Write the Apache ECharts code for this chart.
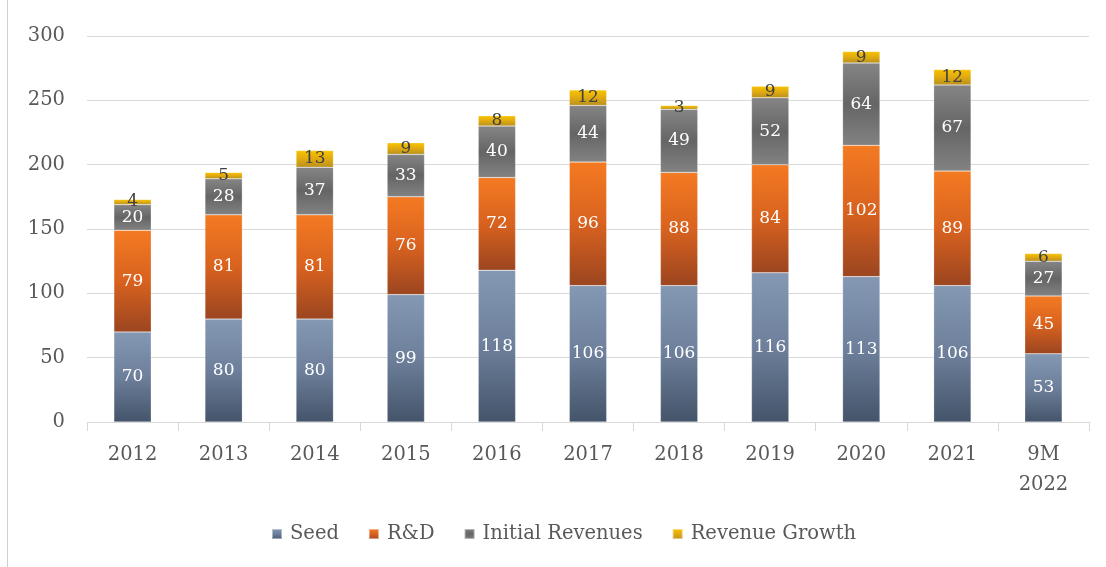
<!DOCTYPE html>
<html>
<head>
<meta charset="utf-8">
<script src="https://cdn.jsdelivr.net/npm/echarts@6/dist/echarts.min.js"></script>
<style>
  html, body { margin: 0; padding: 0; background: #fff; }
  #chart { height: 567px; box-sizing: border-box; border-left: 1px solid #d0d0d0; margin-left: 7px; width: 1099px; }
</style>
</head>
<body>
<div id="chart"></div>
<script>
var categories = ['2012', '2013', '2014', '2015', '2016', '2017', '2018', '2019', '2020', '2021', '9M\n2022'];
var seed = [70, 80, 80, 99, 118, 106, 106, 116, 113, 106, 53];
var rnd = [79, 81, 81, 76, 72, 96, 88, 84, 102, 89, 45];
var initialRevenues = [20, 28, 37, 33, 40, 44, 49, 52, 64, 67, 27];
var revenueGrowth = [4, 5, 13, 9, 8, 12, 3, 9, 9, 12, 6];

var font = "'DejaVu Serif', serif";

function grad(stops) {
    return new echarts.graphic.LinearGradient(0, 0, 0, 1, stops.map(function (c, i) {
        return { offset: i / (stops.length - 1), color: c };
    }));
}

function makeSeries(name, data, stops, labelColor) {
    return {
        name: name,
        type: 'bar',
        stack: 'total',
        barWidth: '41%',
        data: data,
        itemStyle: { color: grad(stops), borderColor: 'rgba(255,255,255,0.45)', borderWidth: 0.5 },
        label: {
            show: true,
            position: 'inside',
            color: labelColor,
            fontFamily: font,
            fontSize: 17
        }
    };
}

var myChart = echarts.init(document.getElementById('chart'));
var option = {
    animation: false,
    grid: { left: 79, right: 17, top: 36, bottom: 145 },
    legend: {
        bottom: 18,
        left: 258,
        itemWidth: 10,
        itemHeight: 10,
        itemGap: 29,
        icon: 'rect',
        textStyle: { fontFamily: font, fontSize: 19.5, color: '#595959', padding: [0, 0, 0, 3] },
        data: ['Seed', 'R&D', 'Initial Revenues', 'Revenue Growth']
    },
    xAxis: {
        type: 'category',
        data: categories,
        axisLine: { lineStyle: { color: '#d9d9d9' } },
        axisTick: { show: true, length: 9, lineStyle: { color: '#d9d9d9' } },
        axisLabel: { fontFamily: font, fontSize: 19.5, color: '#595959', margin: 18, lineHeight: 30 }
    },
    yAxis: {
        type: 'value',
        min: 0,
        max: 300,
        interval: 50,
        axisLine: { show: false },
        axisTick: { show: false },
        splitLine: { lineStyle: { color: '#d9d9d9' } },
        axisLabel: { fontFamily: font, fontSize: 19.5, color: '#595959', margin: 22 }
    },
    series: [
        makeSeries('Seed', seed, ['#8498b4', '#6d7f9a', '#44546a'], '#ffffff'),
        makeSeries('R&D', rnd, ['#f47a22', '#d8621f', '#9b4520'], '#ffffff'),
        makeSeries('Initial Revenues', initialRevenues, ['#858585', '#656565', '#828282'], '#ffffff'),
        makeSeries('Revenue Growth', revenueGrowth, ['#f8c400', '#e0aa10', '#b8901e'], '#404040')
    ]
};
myChart.setOption(option);
</script>
</body>
</html>
